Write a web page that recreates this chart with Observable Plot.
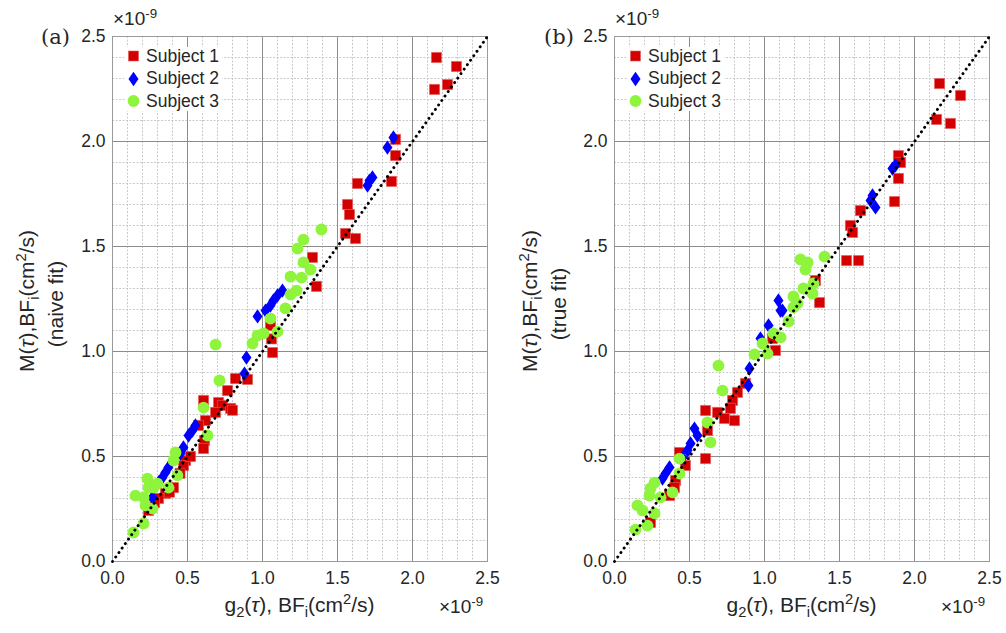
<!DOCTYPE html>
<html>
<head>
<meta charset="utf-8">
<script src="https://cdn.jsdelivr.net/npm/d3@7"></script>
<script src="https://cdn.jsdelivr.net/npm/@observablehq/plot@0.6"></script>
<style>
  html, body { margin: 0; padding: 0; background: #fff; }
  #root { position: relative; width: 1006px; height: 633px; overflow: hidden; font-family: "Liberation Sans", Arial, sans-serif; color: #262626; }
  .pan { position: absolute; top: 0; }
  .lbl { position: absolute; white-space: nowrap; font-family: "Liberation Sans", Arial, sans-serif; color: #262626; }
  .rot { transform: translate(-50%, -50%) rotate(-90deg); }
  .ctr { transform: translate(-50%, -50%); }
  sup, sub { font-size: 70%; line-height: 0; }
  .leg { position: absolute; background: #fff; }
  .legrow { position: absolute; left: 0; height: 22px; display: flex; align-items: center; font-size: 17.5px; }
</style>
</head>
<body>
<div id="root"></div>
<script>
// ---------- data ----------
const subjects = ["Subject 1", "Subject 2", "Subject 3"];
const colors = ["#d40000", "#0000ff", "#8ef43c"];
const axisTicks = [0, 0.5, 1.0, 1.5, 2.0, 2.5];
const diagonal = [0, 2.5];
const panelTags = ["(a)", "(b)"];
const fitNames = ["(naive fit)", "(true fit)"];

// Panel (a): naive fit
const aS1x = [2.147,2.16,2.233,2.293,1.887,1.887,1.86,1.633,1.567,1.58,1.553,1.62,1.333,1.36,1.053,1.06,1.067,0.82,0.9,0.767,0.607,0.707,0.733,0.787,0.687,0.62,0.573,0.613,0.607,0.487,0.473,0.407,0.353,0.307,0.24,0.80,0.52,0.45,0.28,0.38];
const aS1y = [2.248,2.40,2.271,2.357,2.01,1.933,1.81,1.80,1.70,1.652,1.562,1.538,1.448,1.31,1.124,1.06,0.995,0.871,0.867,0.814,0.767,0.757,0.743,0.729,0.71,0.671,0.648,0.576,0.538,0.481,0.457,0.352,0.324,0.30,0.243,0.72,0.50,0.42,0.28,0.33];
const aS2x = [1.873,1.833,1.733,1.70,1.713,1.133,1.10,1.073,1.053,1.02,0.967,0.893,0.88,0.553,0.533,0.507,0.473,0.453,0.373,0.353,0.333,0.307,0.267];
const aS2y = [2.019,1.971,1.829,1.79,1.814,1.29,1.267,1.243,1.219,1.195,1.167,0.971,0.895,0.648,0.624,0.60,0.543,0.514,0.448,0.424,0.40,0.376,0.305];
const aS3x = [1.393,1.273,1.233,1.273,1.32,1.187,1.26,1.227,1.187,1.153,1.053,1.10,1.007,0.967,0.933,0.687,0.713,0.607,0.633,0.42,0.407,0.433,0.373,0.233,0.24,0.273,0.30,0.153,0.207,0.22,0.267,0.207,0.14];
const aS3y = [1.581,1.533,1.49,1.424,1.39,1.357,1.352,1.29,1.271,1.205,1.157,1.095,1.086,1.076,1.038,1.033,0.862,0.733,0.60,0.519,0.481,0.41,0.352,0.395,0.352,0.352,0.371,0.314,0.305,0.267,0.252,0.181,0.138];

// Panel (b): true fit
const bS1x = [2.167,2.307,2.147,2.24,1.893,1.907,1.893,1.867,1.64,1.573,1.587,1.547,1.627,1.34,1.367,1.073,1.053,0.873,0.82,0.787,0.607,0.687,0.773,0.733,0.80,0.62,0.607,0.433,0.473,0.407,0.40,0.367,0.24];
const bS1y = [2.276,2.219,2.105,2.086,1.933,1.90,1.824,1.714,1.671,1.60,1.567,1.433,1.433,1.338,1.233,1.005,1.062,0.848,0.805,0.767,0.719,0.71,0.729,0.681,0.671,0.624,0.49,0.519,0.457,0.386,0.352,0.314,0.186];
const bS2x = [1.853,1.873,1.72,1.707,1.74,1.093,1.12,1.107,1.027,0.973,0.90,0.893,0.533,0.553,0.507,0.487,0.453,0.367,0.34,0.32];
const bS2y = [1.871,1.886,1.743,1.719,1.686,1.243,1.195,1.195,1.124,1.062,0.919,0.838,0.633,0.60,0.562,0.529,0.495,0.448,0.419,0.395];
const bS3x = [1.40,1.24,1.287,1.273,1.327,1.26,1.32,1.193,1.22,1.193,1.16,1.06,1.107,0.987,0.933,1.02,0.693,0.72,0.62,0.64,0.433,0.433,0.387,0.267,0.24,0.233,0.153,0.187,0.267,0.22,0.14,0.307];
const bS3y = [1.452,1.438,1.424,1.39,1.324,1.30,1.276,1.262,1.229,1.21,1.143,1.086,1.067,1.038,0.986,0.99,0.933,0.814,0.662,0.567,0.49,0.419,0.329,0.376,0.348,0.314,0.267,0.243,0.229,0.171,0.152,0.305];

// ---------- helpers ----------
const zip = (xs, ys) => xs.map((x, i) => ({x, y: ys[i]}));
const minorTicks = d3.range(0, 26).map(i => i / 10);
const tallDiamond = {
  draw(ctx, size) {
    const r = Math.sqrt(size / Math.PI);
    const w = r * 0.78, h = r * 1.12;
    ctx.moveTo(0, -h); ctx.lineTo(w, 0); ctx.lineTo(0, h); ctx.lineTo(-w, 0); ctx.closePath();
  }
};

const root = document.getElementById("root");
const W = 503;

function panel(idx, s1, s2, s3, ml, mr) {
  const p = Plot.plot({
    width: W, height: 633,
    marginLeft: ml, marginRight: mr, marginTop: 36, marginBottom: 72,
    x: {domain: [0, 2.5]},
    y: {domain: [0, 2.5]},
    style: {fontFamily: "Liberation Sans, Arial, sans-serif", color: "#262626", background: "transparent"},
    marks: [
      Plot.gridX(minorTicks, {stroke: "#c4c4c4", strokeOpacity: 1, strokeWidth: 0.9, strokeDasharray: "2,1.5"}),
      Plot.gridY(minorTicks, {stroke: "#c4c4c4", strokeOpacity: 1, strokeWidth: 0.9, strokeDasharray: "2,1.5"}),
      Plot.gridX(axisTicks, {stroke: "#8c8c8c", strokeOpacity: 1, strokeWidth: 1}),
      Plot.gridY(axisTicks, {stroke: "#8c8c8c", strokeOpacity: 1, strokeWidth: 1}),
      Plot.frame({stroke: "#9a9a9a", strokeWidth: 1}),
      Plot.axisX(axisTicks, {tickSize: 0, tickPadding: 10, fontSize: 17.5, tickFormat: d => d.toFixed(1), label: null}),
      Plot.axisY(axisTicks, {tickSize: 0, tickPadding: 7, fontSize: 17.5, tickFormat: d => d.toFixed(1), label: null}),
      Plot.dot(s1, {x: "x", y: "y", symbol: "square", r: 5.7, fill: colors[0], stroke: "#e25a5a", strokeWidth: 0.6}),
      Plot.dot(s2, {x: "x", y: "y", symbol: tallDiamond, r: 6.4, fill: colors[1]}),
      Plot.dot(s3, {x: "x", y: "y", symbol: "circle", r: 5.9, fill: colors[2]}),
      Plot.line(diagonal, {x: d => d, y: d => d, stroke: "#000", strokeWidth: 2.9, strokeDasharray: "0.1,5.4", strokeLinecap: "round"})
    ]
  });
  p.classList.add("pan");
  p.style.left = (idx * W) + "px";
  root.appendChild(p);

  const off = idx * W;
  const plotLeft = off + ml;
  const plotRight = off + W - mr;
  const cx = (plotLeft + plotRight) / 2;

  const add = (html, style, cls) => {
    const d = document.createElement("div");
    d.className = "lbl " + (cls || "");
    d.innerHTML = html;
    Object.assign(d.style, style);
    root.appendChild(d);
    return d;
  };
  // panel tag
  add(panelTags[idx], {left: (off + 41) + "px", top: "25px", fontFamily: "DejaVu Serif, serif", fontSize: "21px"});
  // exponent markers
  add("&times;10<sup>-9</sup>", {left: (plotLeft + 1) + "px", top: "8px", fontSize: "19px"});
  add("&times;10<sup>-9</sup>", {left: (plotRight - 48) + "px", top: "596px", fontSize: "19px"});
  // x label
  add("g<sub>2</sub>(<i>&tau;</i>), BF<sub>i</sub>(cm<sup>2</sup>/s)", {left: cx + "px", top: "605px", fontSize: "21px"}, "ctr");
  // y labels
  add("M(<i>&tau;</i>),BF<sub>i</sub>(cm<sup>2</sup>/s)", {left: (off + 27) + "px", top: "301px", fontSize: "21px"}, "rot");
  add(fitNames[idx], {left: (off + 56) + "px", top: "304px", fontSize: "21px"}, "rot");

  // legend
  const leg = document.createElement("div");
  leg.className = "leg";
  Object.assign(leg.style, {left: (plotLeft + 14) + "px", top: "47px", width: "96px", height: "64px"});
  root.appendChild(leg);
  const markerSvgs = [
    '<svg width="14" height="22"><rect x="2.5" y="6" width="10" height="10" fill="' + colors[0] + '" stroke="#e25a5a" stroke-width="0.6"/></svg>',
    '<svg width="14" height="22"><path d="M7.5,3.8 L12.5,11 L7.5,18.2 L2.5,11 Z" fill="' + colors[1] + '"/></svg>',
    '<svg width="14" height="22"><circle cx="7.5" cy="11" r="5.9" fill="' + colors[2] + '"/></svg>'
  ];
  subjects.forEach((s, i) => {
    const row = document.createElement("div");
    row.className = "legrow";
    row.style.top = (-2 + i * 22.5) + "px";
    row.innerHTML = markerSvgs[i] + '<span style="margin-left:6px">' + s + '</span>';
    leg.appendChild(row);
  });
}

panel(0, zip(aS1x, aS1y), zip(aS2x, aS2y), zip(aS3x, aS3y), 112, 16);
panel(1, zip(bS1x, bS1y), zip(bS2x, bS2y), zip(bS3x, bS3y), 111, 17);
</script>
</body>
</html>
